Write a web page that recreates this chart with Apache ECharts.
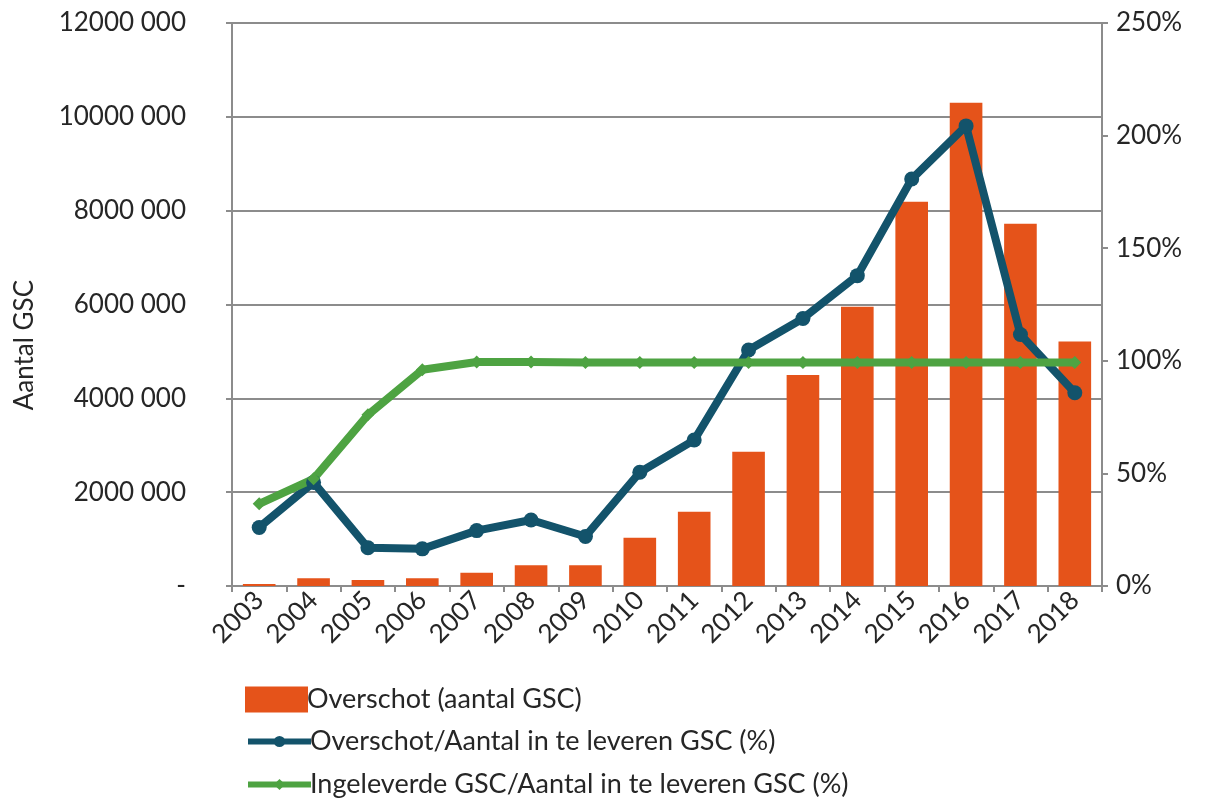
<!DOCTYPE html>
<html>
<head>
<meta charset="utf-8">
<script src="https://cdn.jsdelivr.net/npm/echarts@6/dist/echarts.min.js"></script>
<style>
  html, body { margin: 0; padding: 0; background: #fff; }
  #chart { width: 1208px; height: 802px; }
</style>
</head>
<body>
<div id="chart"></div>
<script>
// jaren
var years = ['2003', '2004', '2005', '2006', '2007', '2008', '2009', '2010',
             '2011', '2012', '2013', '2014', '2015', '2016', '2017', '2018'];

// Overschot (aantal GSC)
var overschot = [40000, 165000, 130000, 165000, 285000, 440000, 440000, 1030000,
                 1580000, 2860000, 4500000, 5950000, 8190000, 10300000, 7720000, 5210000];

// Overschot/Aantal in te leveren GSC (%)
var overschotPct = [26, 46, 17, 16.5, 24.6, 29.3, 22, 50.5,
                    64.8, 104.8, 118.8, 137.8, 180.7, 204.3, 111.7, 85.8];

// Ingeleverde GSC/Aantal in te leveren GSC (%)
var ingeleverdPct = [36.5, 47.6, 76, 96, 99.5, 99.5, 99.3, 99.3,
                     99.3, 99.3, 99.3, 99.3, 99.3, 99.3, 99.3, 99.3];

var font = 'Lato';
var fs = 26;
var textColor = '#262626';
var gray = '#8c8c8c';
var barName = 'Overschot (aantal GSC)';
var blueName = 'Overschot/Aantal in te leveren GSC (%)';
var greenName = 'Ingeleverde GSC/Aantal in te leveren GSC (%)';

var legendText = { fontFamily: font, fontSize: 27, color: textColor, padding: [0, 0, 0, -6] };

// een legenda per regel, zodat elk icoon zijn eigen maat houdt
function legendRow(name, top, h, icon) {
  return {
    orient: 'vertical',
    left: 245,
    top: top,
    padding: 0,
    itemWidth: 63,
    itemHeight: h,
    lineStyle: { width: 6 },
    textStyle: legendText,
    data: [icon ? { name: name, icon: icon } : name]
  };
}

var chart = echarts.init(document.getElementById('chart'));

chart.setOption({
  animation: false,
  textStyle: { fontFamily: font, color: textColor },
  grid: { left: 232, right: 106, top: 23, bottom: 216 },
  legend: [
    legendRow(barName, 686, 26, 'rect'),
    legendRow(blueName, 728, 14),
    legendRow(greenName, 771, 14)
  ],
  graphic: [{
    type: 'text',
    left: 12,
    top: 280,
    rotation: Math.PI / 2,
    style: { text: 'Aantal GSC', font: fs + 'px Lato', fill: textColor }
  }],
  xAxis: {
    type: 'category',
    data: years,
    axisLine: { lineStyle: { color: gray, width: 2 } },
    axisTick: { show: true, length: 6, lineStyle: { color: gray, width: 2 } },
    axisLabel: { rotate: 45, fontSize: fs, color: textColor, margin: 10 }
  },
  yAxis: [{
    type: 'value',
    min: 0,
    max: 12000000,
    interval: 2000000,
    axisLine: { show: true, lineStyle: { color: gray, width: 2 } },
    axisTick: { show: true, length: 6, lineStyle: { color: gray, width: 2 } },
    splitLine: { lineStyle: { color: gray, width: 2 } },
    axisLabel: {
      fontSize: fs, color: textColor, margin: 46,
      formatter: function (v) { return v === 0 ? '-' : (v / 1000) + ' 000'; }
    }
  }, {
    type: 'value',
    min: 0,
    max: 250,
    interval: 50,
    position: 'right',
    axisLine: { show: true, lineStyle: { color: gray, width: 2 } },
    axisTick: { show: true, length: 6, lineStyle: { color: gray, width: 2 } },
    splitLine: { show: false },
    axisLabel: { fontSize: fs, color: textColor, margin: 14, formatter: '{value}%' }
  }],
  series: [{
    name: barName,
    type: 'bar',
    data: overschot,
    barWidth: '60%',
    itemStyle: { color: '#e5531a' }
  }, {
    name: blueName,
    type: 'line',
    yAxisIndex: 1,
    data: overschotPct,
    symbol: 'circle',
    symbolSize: 15,
    lineStyle: { color: '#13536b', width: 8 },
    itemStyle: { color: '#13536b' }
  }, {
    name: greenName,
    type: 'line',
    yAxisIndex: 1,
    data: ingeleverdPct,
    symbol: 'diamond',
    symbolSize: 13,
    lineStyle: { color: '#4ea342', width: 8 },
    itemStyle: { color: '#4ea342' }
  }]
});
</script>
</body>
</html>
